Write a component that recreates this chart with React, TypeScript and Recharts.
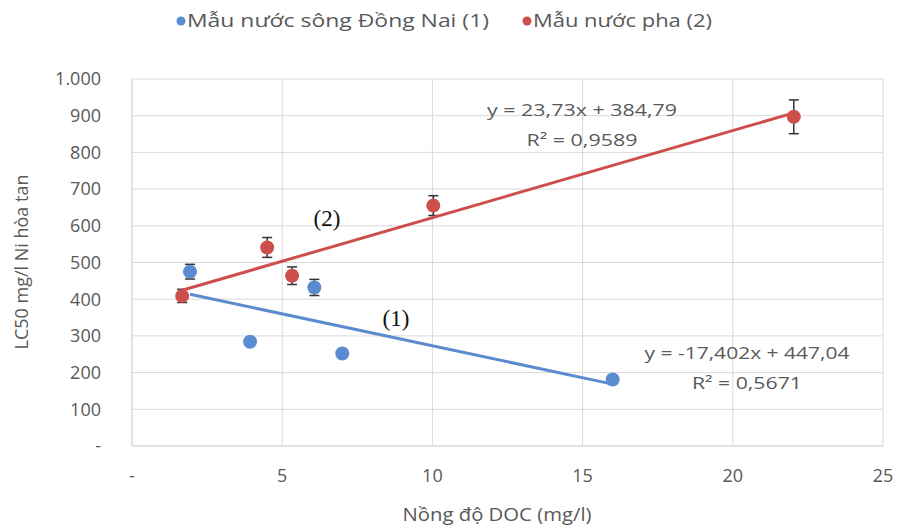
import React from "react";
import {
  ComposedChart,
  Scatter,
  XAxis,
  YAxis,
  CartesianGrid,
  ErrorBar,
} from "recharts";

// Mẫu nước sông Đồng Nai (1)
const river = [
  { x: 1.93, y: 475, err: 20 },
  { x: 3.93, y: 284, err: 0 },
  { x: 6.07, y: 432, err: 22 },
  { x: 7.0, y: 252, err: 0 },
  { x: 16.0, y: 181, err: 0 },
];

// Mẫu nước pha (2)
const mixed = [
  { x: 1.67, y: 409, err: 18 },
  { x: 4.5, y: 541, err: 27 },
  { x: 5.33, y: 464, err: 24 },
  { x: 10.03, y: 655, err: 27 },
  { x: 22.03, y: 897, err: 46 },
];

const trendRiver = { slope: -17.402, intercept: 447.04 };
const trendMixed = { slope: 23.73, intercept: 384.79 };

const xTicks = [0, 5, 10, 15, 20, 25];
const yTicks = [0, 100, 200, 300, 400, 500, 600, 700, 800, 900, 1000];

const BLUE = "#5b8bcf";
const RED = "#cd4f4c";
const TEXT = "#595959";
const FONT = "'Open Sans', sans-serif";

const trendPoints = (pts: { x: number }[], t: { slope: number; intercept: number }) => {
  const xs = pts.map((p) => p.x);
  const lo = Math.min(...xs);
  const hi = Math.max(...xs);
  return [lo, hi].map((x) => ({ x, y: t.slope * x + t.intercept }));
};

const dot = (color: string) => (props: any) =>
  <circle cx={props.cx} cy={props.cy} r={7} fill={color} />;

const fmtY = (v: number) => (v === 0 ? "-" : v === 1000 ? "1.000" : String(v));
const fmtX = (v: number) => (v === 0 ? "-" : String(v));

// stretched text, the source image is a little wider than tall
const Txt = ({ x, y, w, size, anchor = "middle", children, ...rest }: any) => (
  <text
    x={x}
    y={y}
    textAnchor={anchor}
    textLength={w}
    lengthAdjust="spacingAndGlyphs"
    fill={TEXT}
    fontSize={size}
    fontFamily={FONT}
    {...rest}
  >
    {children}
  </text>
);

export default function App() {
  return (
    <div style={{ position: "absolute", left: 0, top: 0, background: "#fff" }}>
      <ComposedChart
        width={898}
        height={529}
        margin={{ top: 79, right: 15, bottom: 0, left: 0 }}
      >
        <CartesianGrid stroke="#d9d9d9" strokeWidth={1} />
        <XAxis
          type="number"
          dataKey="x"
          domain={[0, 25]}
          ticks={xTicks}
          tickFormatter={fmtX}
          axisLine={{ stroke: "#d9d9d9" }}
          tickLine={false}
          tickSize={0}
          tickMargin={23}
          height={83}
          tick={{ fill: TEXT, fontSize: 18, fontFamily: FONT }}
        />
        <YAxis
          type="number"
          dataKey="y"
          domain={[0, 1000]}
          ticks={yTicks}
          tickFormatter={fmtY}
          axisLine={{ stroke: "#d9d9d9" }}
          tickLine={false}
          tickSize={0}
          tickMargin={31}
          width={132}
          tick={{ fill: TEXT, fontSize: 18, fontFamily: FONT }}
        />
        <Scatter
          data={trendPoints(river, trendRiver)}
          line={{ stroke: BLUE, strokeWidth: 3 }}
          shape={() => null}
          isAnimationActive={false}
        />
        <Scatter
          data={trendPoints(mixed, trendMixed)}
          line={{ stroke: RED, strokeWidth: 3 }}
          shape={() => null}
          isAnimationActive={false}
        />
        <Scatter data={river} fill={BLUE} shape={dot(BLUE)} isAnimationActive={false}>
          <ErrorBar dataKey="err" direction="y" width={5} stroke="#333" strokeWidth={1.5} />
        </Scatter>
        <Scatter data={mixed} fill={RED} shape={dot(RED)} isAnimationActive={false}>
          <ErrorBar dataKey="err" direction="y" width={5} stroke="#333" strokeWidth={1.5} />
        </Scatter>

        {/* legend */}
        <circle cx={181} cy={21} r={4.5} fill={BLUE} />
        <Txt x={187} y={27} w={302} size={19} anchor="start">
          Mẫu nước sông Đồng Nai (1)
        </Txt>
        <circle cx={527} cy={21} r={4.5} fill={RED} />
        <Txt x={533} y={27} w={179} size={19} anchor="start">
          Mẫu nước pha (2)
        </Txt>

        {/* axis titles */}
        <Txt x={22} y={268} w={175} size={18} transform="rotate(-90 22 262)">
          LC50 mg/l Ni hòa tan
        </Txt>
        <Txt x={497} y={521} w={189} size={18}>
          Nồng độ DOC (mg/l)
        </Txt>

        {/* trendline labels */}
        <Txt x={582} y={116} w={190} size={17}>
          y = 23,73x + 384,79
        </Txt>
        <Txt x={582} y={146} w={111} size={17}>
          R² = 0,9589
        </Txt>
        <Txt x={747} y={359} w={205} size={17}>
          y = -17,402x + 447,04
        </Txt>
        <Txt x={747} y={389} w={110} size={17}>
          R² = 0,5671
        </Txt>

        {/* series markers */}
        <text x={327} y={226} textAnchor="middle" fill="#111" fontSize={23} fontFamily="'Liberation Serif', serif">
          (2)
        </text>
        <text x={396} y={326} textAnchor="middle" fill="#111" fontSize={23} fontFamily="'Liberation Serif', serif">
          (1)
        </text>
      </ComposedChart>
    </div>
  );
}
